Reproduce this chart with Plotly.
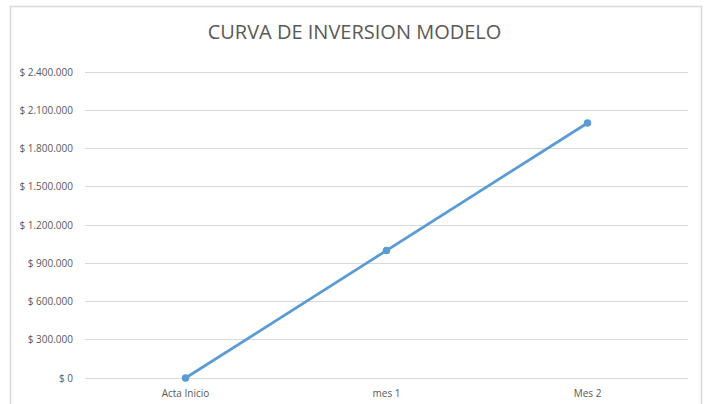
import plotly.graph_objects as go

categories = ["Acta Inicio", "mes 1", "Mes 2"]
values = [0, 1000000, 2000000]
y_tick_values = [0, 300000, 600000, 900000, 1200000, 1500000, 1800000, 2100000, 2400000]
y_tick_labels = ["$ 0", "$ 300.000", "$ 600.000", "$ 900.000", "$ 1.200.000",
                 "$ 1.500.000", "$ 1.800.000", "$ 2.100.000", "$ 2.400.000"]
title_text = "CURVA DE INVERSION MODELO"

W, H = 709, 404
# pixel targets: value 0 at y=378, 2.400.000 at y=72 (306 px)
PAD = 4
L, R, T, B = 85, 21, 72 - PAD, 26 - PAD
pw, ph = W - L - R, H - T - B
per_px = 2400000 / 306.0
y_min = -PAD * per_px
y_max = 2400000 + PAD * per_px

def px_x(p):
    return (p - L) / pw

def px_y(p):
    return (H - B - p) / ph

fig = go.Figure()
fig.add_trace(go.Scatter(
    x=categories, y=values, mode="lines+markers",
    line=dict(color="#5B9BD5", width=2.75),
    marker=dict(color="#5B9BD5", size=7.5),
    hoverinfo="skip", showlegend=False, cliponaxis=False,
))

fig.update_layout(
    width=W, height=H,
    margin=dict(l=L, r=R, t=T, b=B, pad=0),
    paper_bgcolor="white", plot_bgcolor="white",
    font=dict(family="'Open Sans', sans-serif", color="#595959", size=10),
    title=dict(text=title_text, x=0.5, xanchor="center", y=1 - 32 / H, yanchor="middle",
               font=dict(size=20, color="#595959")),
    xaxis=dict(range=[-0.5, 2.5], showgrid=False, showline=False, zeroline=False,
               ticks="outside", ticklen=2, tickcolor="rgba(0,0,0,0)",
               tickfont=dict(size=10, color="#595959"), fixedrange=True, automargin=False),
    yaxis=dict(range=[y_min, y_max], tickvals=y_tick_values, ticktext=y_tick_labels,
               showgrid=True, gridcolor="#D9D9D9", gridwidth=1, zeroline=False, showline=False,
               ticks="outside", ticklen=9, tickcolor="rgba(0,0,0,0)",
               tickfont=dict(size=10, color="#595959"), fixedrange=True, automargin=False),
    shapes=[dict(type="rect", xref="paper", yref="paper",
                 x0=px_x(10.5), x1=px_x(701.5), y0=px_y(420), y1=px_y(6.5),
                 line=dict(color="#D9D9D9", width=1.5), fillcolor="rgba(0,0,0,0)", layer="below")],
)

fig.write_html("out.html", config={"displayModeBar": False},
               post_script="document.body.style.margin='0';")
